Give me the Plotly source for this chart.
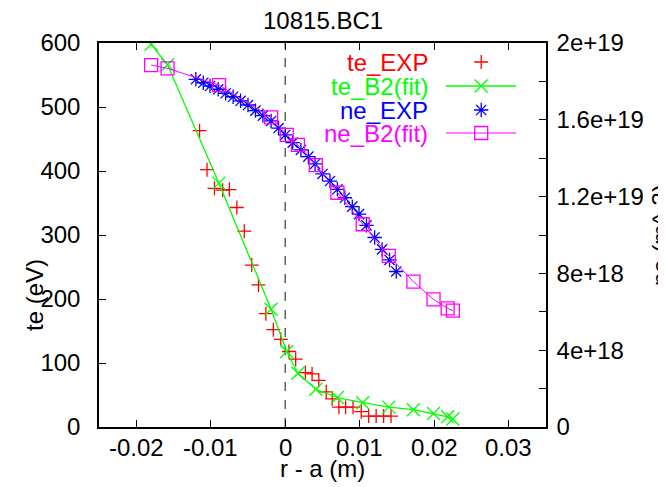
import plotly.graph_objects as go

# ---------------- data ----------------
r_b2 = [-0.0180, -0.0158, -0.0089, -0.0019, 0.0002, 0.0017, 0.0041, 0.0070,
        0.0104, 0.0139, 0.0172, 0.0199, 0.0218, 0.0225]
te_b2 = [598, 566, 381, 184, 118, 84, 59, 46, 38, 31, 27, 21, 16, 12.5]
ne_b2 = [1.885e19, 1.868e19, 1.781e19, 1.613e19, 1.521e19, 1.469e19, 1.364e19,
         1.220e19, 1.056e19, 0.891e19, 0.757e19, 0.665e19, 0.618e19, 0.606e19]

r_te_exp = [-0.0115, -0.0105, -0.0095, -0.0084, -0.0075, -0.0065, -0.0055,
            -0.0045, -0.0036, -0.0026, -0.0016, -0.0006, 0.0005, 0.0014,
            0.0027, 0.0036, 0.0045, 0.0055, 0.0063, 0.0072, 0.0081, 0.0091,
            0.0102, 0.0112, 0.0122, 0.0132, 0.0142]
te_exp = [463, 402, 373, 370, 371, 343, 306, 253, 222, 177, 152, 137, 118, 106,
          85, 83, 73, 55, 44, 31, 31, 31, 24, 17, 17, 17, 17]

r_ne_exp = [-0.0120, -0.0110, -0.0101, -0.0090, -0.0080, -0.0070, -0.0060,
            -0.0050, -0.0040, -0.0030, -0.0019, -0.0009, 0.0000, 0.0010,
            0.0021, 0.0031, 0.0040, 0.0050, 0.0060, 0.0070, 0.0080, 0.0090,
            0.0099, 0.0109, 0.0120, 0.0130, 0.0140, 0.0149]
ne_exp = [1.811e19, 1.793e19, 1.776e19, 1.759e19, 1.738e19, 1.720e19, 1.699e19,
          1.677e19, 1.648e19, 1.622e19, 1.594e19, 1.557e19, 1.521e19, 1.481e19,
          1.443e19, 1.408e19, 1.370e19, 1.318e19, 1.281e19, 1.238e19, 1.194e19,
          1.148e19, 1.109e19, 1.050e19, 0.987e19, 0.925e19, 0.870e19, 0.810e19]

x_tickvals = [-0.02, -0.01, 0, 0.01, 0.02, 0.03]
x_ticktext = ["-0.02", "-0.01", "0", "0.01", "0.02", "0.03"]
y_tickvals = [0, 100, 200, 300, 400, 500, 600]
y2_tickvals = [0, 4e18, 8e18, 1.2e19, 1.6e19, 2e19]
y2_ticktext = ["0", "4e+18", "8e+18", "1.2e+19", "1.6e+19", "2e+19"]

legend_names = ["te_EXP", "te_B2(fit)", "ne_EXP", "ne_B2(fit)"]
title_text = "10815.BC1"

# ---------------- styles ----------------
RED, GREEN, BLUE, MAG = "#ff0000", "#00ff00", "#0000ff", "#ff00ff"
FONT = "Liberation Sans, Arial, sans-serif"
FS = 24

fig = go.Figure()

fig.add_trace(go.Scatter(x=r_te_exp, y=te_exp, mode="markers",
                         marker=dict(symbol="cross-thin-open", size=10, color=RED,
                                     line=dict(color=RED, width=1.3)),
                         showlegend=False))
fig.add_trace(go.Scatter(x=r_b2, y=te_b2, mode="lines+markers",
                         line=dict(color=GREEN, width=1.3),
                         marker=dict(symbol="x-thin-open", size=13, color=GREEN,
                                     line=dict(color=GREEN, width=1.3)),
                         showlegend=False))
fig.add_trace(go.Scatter(x=r_ne_exp, y=ne_exp, mode="markers", yaxis="y2",
                         marker=dict(symbol="asterisk-open", size=12, color=BLUE,
                                     line=dict(color=BLUE, width=1.3)),
                         showlegend=False))
fig.add_trace(go.Scatter(x=r_b2, y=ne_b2, mode="lines+markers", yaxis="y2",
                         line=dict(color=MAG, width=1),
                         marker=dict(symbol="square-open", size=13, color=MAG,
                                     line=dict(color=MAG, width=1.3)),
                         showlegend=False))

# ---------------- manual gnuplot-style key ----------------
key_y = [0.9505, 0.888, 0.8255, 0.7656]
key_colors = [RED, GREEN, BLUE, MAG]
key_symbols = ["cross-thin-open", "x-thin-open", "asterisk-open", "square-open"]
key_sizes = [10, 13, 12, 13]
key_lines = [False, True, False, True]
x_line0, x_line1, x_mark = 0.776, 0.933, 0.855
for name, yy, col, sym, sz, hasline in zip(legend_names, key_y, key_colors,
                                           key_symbols, key_sizes, key_lines):
    if hasline:
        fig.add_trace(go.Scatter(x=[x_line0, x_line1], y=[yy, yy], mode="lines",
                                 xaxis="x3", yaxis="y3",
                                 line=dict(color=col, width=1.3 if col == GREEN else 1),
                                 showlegend=False, hoverinfo="skip"))
    fig.add_trace(go.Scatter(x=[x_mark], y=[yy], mode="markers",
                             xaxis="x3", yaxis="y3",
                             marker=dict(symbol=sym, size=sz, color=col,
                                         line=dict(color=col, width=1.3)),
                             showlegend=False, hoverinfo="skip"))
    fig.add_annotation(x=0.7405, y=yy, xref="paper", yref="paper",
                       text=name, showarrow=False, xanchor="right",
                       yanchor="middle", font=dict(family=FONT, size=FS, color=col))

# dashed line at r - a = 0
fig.add_shape(type="line", x0=0, x1=0, y0=0, y1=600, xref="x", yref="y",
              line=dict(color="#606060", width=1.5, dash="dash"), layer="below")

# x tick labels (placed as text just under the axis, as gnuplot does)
for tv, tt in zip(x_tickvals, x_ticktext):
    fig.add_annotation(x=tv, y=0, xref="x", yref="paper", yshift=-20,
                       text=tt, showarrow=False, xanchor="center", yanchor="middle",
                       font=dict(family=FONT, size=FS, color="black"))

# axis titles / title
fig.add_annotation(x=0.5, y=1.0, xref="paper", yref="paper", yshift=23,
                   text=title_text, showarrow=False, xanchor="center",
                   yanchor="middle", font=dict(family=FONT, size=FS, color="black"))
fig.add_annotation(x=0.5, y=0, xref="paper", yref="paper", yshift=-41,
                   text="r - a (m)", showarrow=False, xanchor="center",
                   yanchor="middle", font=dict(family=FONT, size=FS, color="black"))
fig.add_annotation(x=-0.143, y=0.344, xref="paper", yref="paper",
                   text="te (eV)", showarrow=False, textangle=-90,
                   xanchor="center", yanchor="middle",
                   font=dict(family=FONT, size=FS, color="black"))
fig.add_annotation(x=1.255, y=0.5, xref="paper", yref="paper",
                   text="ne (m^-3)", showarrow=False, textangle=-90,
                   xanchor="center", yanchor="middle",
                   font=dict(family=FONT, size=FS, color="black"))

axis_common = dict(showgrid=False, zeroline=False, linecolor="black", linewidth=1.5,
                   ticks="inside", ticklen=7, tickcolor="black", tickwidth=1.2,
                   tickfont=dict(family=FONT, size=FS, color="black"))

# the page body has an 8px margin: the figure is shrunk by it so that the
# plot sits where the reference has it
fig.update_layout(
    width=658, height=479,
    margin=dict(l=91, r=120, t=35, b=60),
    paper_bgcolor="white", plot_bgcolor="white",
    showlegend=False,
    xaxis=dict(range=[-0.025, 0.035], tickvals=x_tickvals, showticklabels=False,
               showline=True, mirror="ticks", **axis_common),
    yaxis=dict(range=[0, 600], tickvals=y_tickvals, showline=True, mirror=False,
               ticklabelstandoff=12, **axis_common),
    yaxis2=dict(range=[0, 2e19], overlaying="y", side="right",
                tickvals=y2_tickvals, ticktext=y2_ticktext, showline=True,
                ticklabelstandoff=4,
                minor=dict(dtick=2e18, ticks="inside", ticklen=7, tickcolor="black",
                           tickwidth=1.2, tick0=0),
                **axis_common),
    xaxis3=dict(range=[0, 1], overlaying="x", visible=False, fixedrange=True),
    yaxis3=dict(range=[0, 1], overlaying="y", visible=False, fixedrange=True),
)

fig.write_html("out.html")
